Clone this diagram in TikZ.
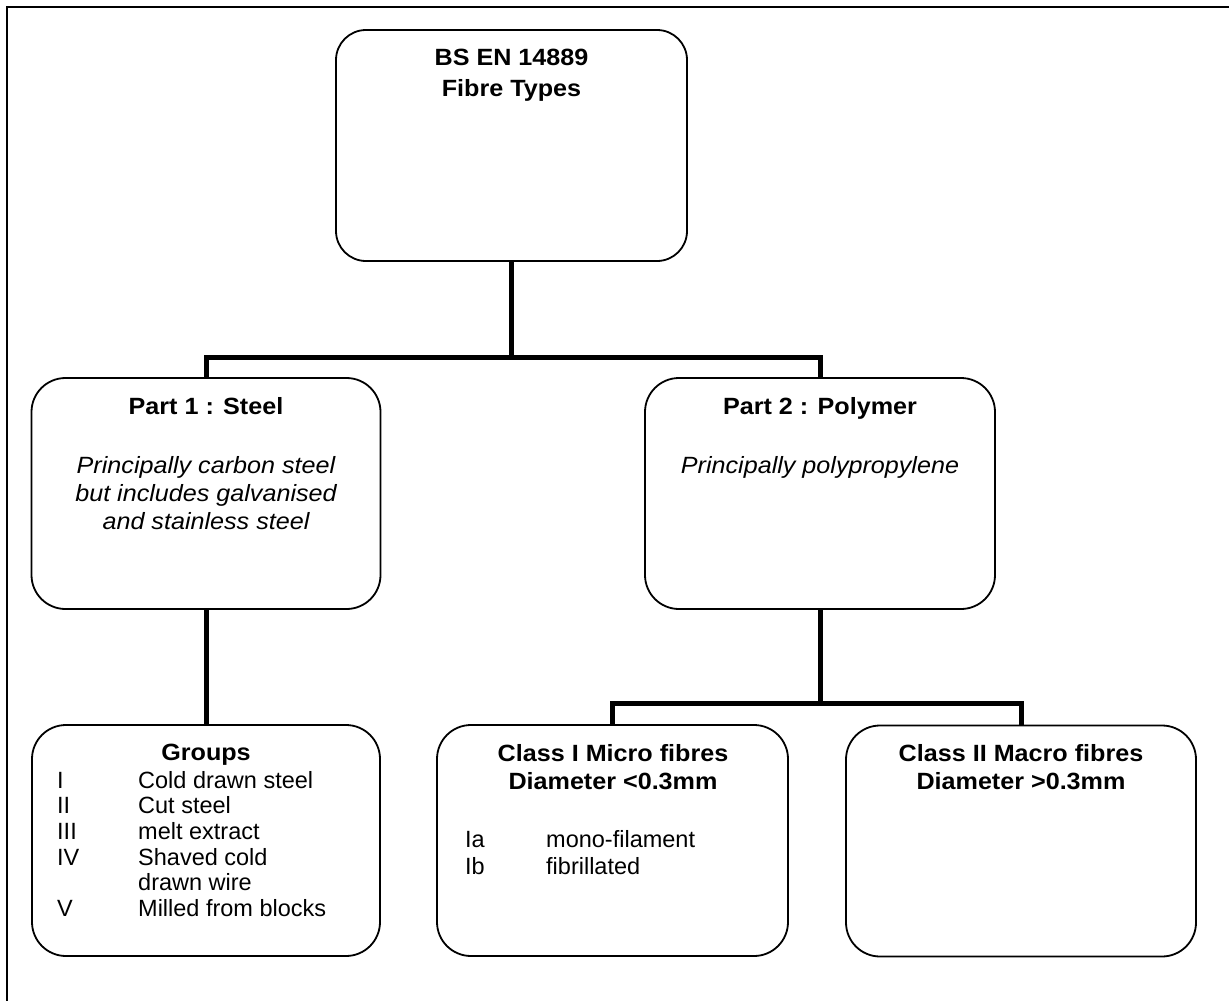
\documentclass[tikz,border=0pt]{standalone}
\usepackage{fontspec}
\setmainfont{Liberation Sans}[BoldFeatures={FakeStretch=1.07},ItalicFeatures={FakeStretch=1.07}]
\begin{document}
\begin{tikzpicture}[x=1pt,y=-1pt,
  box/.style={draw, line width=1.8pt, rounded corners=34pt, minimum height=231pt, inner sep=0pt},
  conn/.style={line width=5pt, line join=miter},
  txt/.style={anchor=base, inner sep=0pt, font=\fontsize{23.5}{28}\selectfont},
  ttl/.style={txt, font=\fontsize{23.5}{28}\selectfont\bfseries},
  itx/.style={txt, font=\fontsize{23.5}{28}\selectfont\itshape},
  lst/.style={txt, anchor=base west}]
\useasboundingbox (0,0) rectangle (1229,1001);
% frame (top and left)
\draw[line width=2.5pt] (7,1001) -- (7,7) -- (1229,7);
% boxes
\node[box, rounded corners=30pt, minimum width=351pt] (top) at (511.5,145.5) {};
\node[box, minimum width=349pt] (p1) at (206,493.5) {};
\node[box, minimum width=350pt] (p2) at (820,493.5) {};
\node[box, minimum width=348pt] (grp) at (206,840.5) {};
\node[box, minimum width=351pt] (c1) at (612.5,840.5) {};
\node[box, minimum width=350pt] (c2) at (1021,841) {};
% connectors
\coordinate (j1) at (513,357);
\coordinate (j2) at (820,703);
\draw[conn] (top.south) -- (top.south |- j1);
\draw[conn] (p1.north) |- (j1) -| (p2.north);
\draw[conn] (p1.south) -- (grp.north);
\draw[conn] (p2.south) -- (j2);
\draw[conn] (c1.north) |- (j2) -| (c2.north);
% texts
\node[ttl] (t1) at (511.5,65) {BS EN 14889};
\node[ttl] (t2) at (511.5,96) {Fibre Types};
\node[ttl] (p1a) at (206,414) {Part 1 : Steel};
\node[itx] (p1b) at (206,473) {Principally carbon steel};
\node[itx] (p1c) at (206,501) {but includes galvanised};
\node[itx] (p1d) at (206,529) {and stainless steel};
\node[ttl] (p2a) at (820,414) {Part 2 : Polymer};
\node[itx] (p2b) at (820,473) {Principally polypropylene};
\node[ttl] (ga) at (206,760) {Groups};
\node[lst] (g1n) at (57,788) {I};
\node[lst] (g1t) at (138,788) {Cold drawn steel};
\node[lst] (g2n) at (57,813.7) {II};
\node[lst] (g2t) at (138,813.7) {Cut steel};
\node[lst] (g3n) at (57,839.4) {III};
\node[lst] (g3t) at (138,839.4) {melt extract};
\node[lst] (g4n) at (57,865.1) {IV};
\node[lst] (g4t) at (138,865.1) {Shaved cold};
\node[lst] (g4u) at (138,890.8) {drawn wire};
\node[lst] (g5n) at (57,916.5) {V};
\node[lst] (g5t) at (138,916.5) {Milled from blocks};
\node[ttl] (c1a) at (613,761) {Class I Micro fibres};
\node[ttl] (c1b) at (613,789) {Diameter <0.3mm};
\node[lst] (c1an) at (465,847) {Ia};
\node[lst] (c1at) at (546,847) {mono-filament};
\node[lst] (c1bn) at (465,874) {Ib};
\node[lst] (c1bt) at (546,874) {fibrillated};
\node[ttl] (c2a) at (1021,761) {Class II Macro fibres};
\node[ttl] (c2b) at (1021,789) {Diameter >0.3mm};
\end{tikzpicture}
\end{document}
